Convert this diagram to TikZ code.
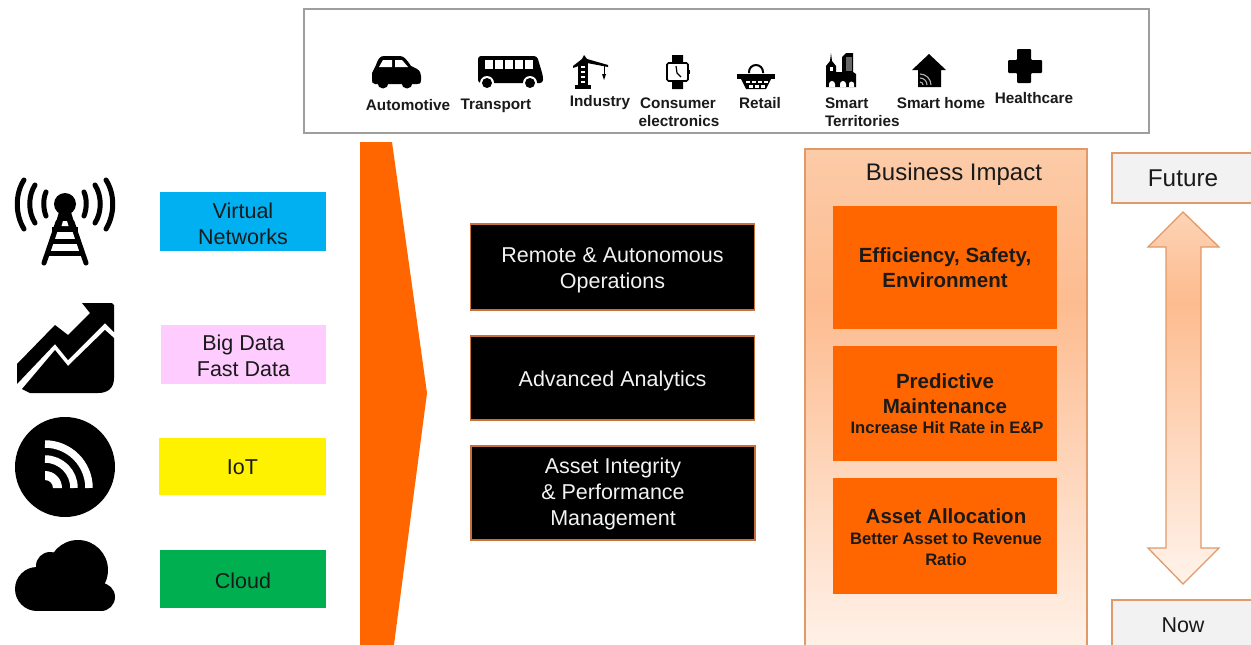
\documentclass[tikz,border=0pt]{standalone}
\usepackage{fontspec}
\setmainfont{Liberation Sans}
\usetikzlibrary{calc}
\definecolor{orng}{HTML}{FF6600}
\definecolor{edgeo}{HTML}{E09A6A}
\definecolor{blackedge}{HTML}{C8703A}
\definecolor{txt}{HTML}{1A1A1A}
\definecolor{vb}{HTML}{00B0F0}
\definecolor{pk}{HTML}{FFCCFF}
\definecolor{yl}{HTML}{FFF200}
\definecolor{gr}{HTML}{00B050}
\definecolor{gradtop}{HTML}{FCCBA8}
\definecolor{gradmid}{HTML}{FDBC90}
\definecolor{gradlow}{HTML}{FFF3EB}
\definecolor{gradatop}{HTML}{FDD3B5}
\pgfdeclareverticalshading{bizshade}{100bp}{color(0bp)=(gradlow); color(25bp)=(gradlow); color(60bp)=(gradmid); color(75bp)=(gradtop); color(100bp)=(gradtop)}
\pgfdeclareverticalshading{arrshade}{100bp}{color(0bp)=(gradlow); color(25bp)=(gradlow); color(63bp)=(gradmid); color(75bp)=(gradatop); color(100bp)=(gradatop)}
\tikzset{
  every node/.style={inner sep=0pt,outer sep=0pt,text=txt},
  techtext/.style={font=\fontsize{21.5}{26}\selectfont,align=center},
  blacktext/.style={font=\fontsize{21.5}{26}\selectfont,align=center,text=white!95!black},
  blackbox/.style={fill=black,draw=blackedge,line width=1.2pt,minimum width=284pt},
  impact/.style={fill=orng,minimum width=224pt,align=center},
  sector/.style={font=\fontsize{15.3}{18}\selectfont\bfseries},
  timebox/.style={fill=black!5,draw=edgeo,line width=1.3pt,anchor=north west,minimum width=150pt},
  biglabel/.style={font=\fontsize{20.5}{25}\selectfont\bfseries},
  sublabel/.style={font=\fontsize{16.6}{21}\selectfont\bfseries},
}
\begin{document}
\begin{tikzpicture}[x=1pt,y=-1pt]
\useasboundingbox (0,0) rectangle (1251,645);
\clip (0,0) rectangle (1251,645);
% top panel
\node[draw=black!38,line width=1.2pt,fill=white,minimum width=845pt,minimum height=124pt] (panel) at (726.5,71) {};
% car
\fill (372,73) -- (376,65) .. controls (378,59) and (380,56) .. (384,56) -- (400,56) .. controls (404,56) and (407,60) .. (411,66) -- (417,69) .. controls (420,71) and (421,73) .. (421,76) -- (421,80) .. controls (421,84) and (419,84) .. (417,84) -- (375,84) .. controls (372,84) and (372,82) .. (372,79) -- cycle;
\fill[white] (383,60) -- (392,60) -- (392,67) -- (379,67) -- cycle;
\fill[white] (395,60) -- (402,60) -- (408,67) -- (395,67) -- cycle;
\fill (383,83) circle[radius=5.5] (407,83) circle[radius=5.5];
% bus
\fill[rounded corners=3pt] (478,56) -- (537,56) -- (543,76) -- (543,83) -- (478,83) -- cycle;
\foreach \xx in {485,495,505,515,525}{\fill[white] (\xx,60) rectangle (\xx+7.5,69);}
\fill[white] (487,83) circle[radius=7] (530,83) circle[radius=7];
\fill (487,83) circle[radius=5] (530,83) circle[radius=5];
% crane
\fill (578,62) rectangle (588,85);
\foreach \yy in {66,71,76,81}{\fill[white] (581,\yy) rectangle (585,\yy+2);}
\fill (573,66) -- (582,59) -- (584,55) -- (587,59) -- (608,65) -- (608,67) -- (587,63) -- (573,68) -- cycle;
\fill (575,85) rectangle (591,89);
\draw[line width=0.7pt] (604,66) -- (604,74);
\fill (602,74) -- (606,74) -- (604,80) -- cycle;
% watch
\fill (672,55) rectangle (683,63) (672,81) rectangle (683,89);
\draw[line width=1.6pt,fill=white,rounded corners=1.5pt] (667,63) rectangle (688,81);
\draw[line width=1.2pt] (676,66) -- (677,73) -- (681,77);
\fill (688,70) rectangle (690,74);
% basket
\draw[line width=2pt] (749,73) -- (749,72) arc[start angle=-180,end angle=0,radius=7] -- (763,73);
\fill (737,74) rectangle (775,79);
\fill (741,79) -- (771,79) -- (766,89) -- (746,89) -- cycle;
\foreach \xx/\yy in {746/80.5,752/80.5,758/80.5,764/80.5,749/85,755/85,761/85}{\fill[white] (\xx,\yy) rectangle (\xx+3.5,\yy+2.5);}
% smart territories
\fill (826,87) -- (826,66) -- (830,61) -- (831,53) -- (832,61) -- (836,66) -- (836,72) -- (842,72) -- (842,57) -- (846,53) -- (853,53) -- (853,72) -- (856,74) -- (856,87) -- cycle;
\fill[black!60] (846,57) rectangle (852,71);
\fill[white] (829,87) -- (829,84) arc[start angle=-180,end angle=0,radius=3] -- (835,87) -- cycle;
\fill[white] (840,87) -- (840,84) arc[start angle=-180,end angle=0,radius=3] -- (846,87) -- cycle;
\fill[white] (849,87) -- (849,84) arc[start angle=-180,end angle=0,radius=2.5] -- (854,87) -- cycle;
\fill[white] (830,67) rectangle (833,71);
% smart home
\fill (912,70) -- (929,54) -- (946,70) -- (941,70) -- (941,87) -- (918,87) -- (918,70) -- cycle;
\draw[black!30,line width=1.1pt] (920,74) arc[start angle=-90,end angle=0,radius=11];
\draw[black!30,line width=1.1pt] (920,78) arc[start angle=-90,end angle=0,radius=7];
\draw[black!30,line width=1.1pt] (920,82) arc[start angle=-90,end angle=0,radius=3];
% cross
\fill[rounded corners=1pt] (1017,49) -- (1031,49) -- (1031,60) -- (1042,60) -- (1042,73) -- (1031,73) -- (1031,83) -- (1017,83) -- (1017,73) -- (1008,73) -- (1008,60) -- (1017,60) -- cycle;
% sector labels
\node[sector] (auto) at (408,105) {Automotive};
\node[sector] (trans) at (496,106) {Transport};
\node[sector] (indu) at (600,103) {Industry};
\node[sector] (cons1) at (678,103) {Consumer};
\node[sector] (cons2) at (679,121) {electronics};
\node[sector] (reta) at (760,103) {Retail};
\node[sector,anchor=west] (terr1) at (825,103) {Smart};
\node[sector,anchor=west] (terr2) at (825,121) {Territories};
\node[sector] (home) at (941,103) {Smart home};
\node[sector] (heal) at (1034,98) {Healthcare};
% tower icon
\fill (65,204) circle[radius=11];
\fill (59,212) -- (71,212) -- (76,229) -- (54,229) -- cycle;
\fill[white] (63,221) -- (67,221) -- (68.5,226) -- (61.5,226) -- cycle;
\draw[line width=5pt,line cap=round] (58,222) -- (44,263) (72,222) -- (86,263);
\draw[line width=5pt] (52,229) -- (78,229) (50,241) -- (80,241) (46,253) -- (84,253);
\foreach \sx in {-1,1}{
 \draw[line width=5pt,line cap=round] ({65+\sx*19},192) .. controls ({65+\sx*22},199) and ({65+\sx*22},208) .. ({65+\sx*19},216);
 \draw[line width=5pt,line cap=round] ({65+\sx*30},185) .. controls ({65+\sx*37},196) and ({65+\sx*37},212) .. ({65+\sx*30},223);
 \draw[line width=5pt,line cap=round] ({65+\sx*41},180) .. controls ({65+\sx*50},194) and ({65+\sx*50},214) .. ({65+\sx*41},229);
}
% trend icon
\fill (17,364) -- (55,325) -- (68,335) -- (90,313) -- (82,303) -- (112,303) -- (114,305) -- (114,332) -- (105,323) -- (68,360) -- (55,344) -- (17,384) -- cycle;
\fill (22,389) -- (55,350) -- (68,366) -- (105,330) -- (114,338) -- (114,378) .. controls (114,388) and (108,393) .. (98,393) -- (30,393) -- cycle;
% iot icon
\fill (65,467) circle[radius=50];
\foreach \rr in {44,29}{\draw[white,line width=7.5pt] (45,488-\rr) arc[start angle=-90,end angle=0,radius=\rr];}
\fill[white] (45,471) arc[start angle=-90,end angle=0,radius=17] -- (53,488) arc[start angle=0,end angle=-90,radius=8] -- cycle;
% cloud icon
\fill (37,589) circle[radius=22] (101,597) circle[radius=14] (78,570) circle[radius=30] (50,566) circle[radius=14];
\fill (37,575) rectangle (101,611);
% tech boxes
\node[fill=vb,minimum width=166pt,minimum height=59pt] (virt) at (243,221.5) {};
\node[fill=pk,minimum width=165pt,minimum height=59pt] (big) at (243.5,354.5) {};
\node[fill=yl,minimum width=167pt,minimum height=57pt] (iot) at (242.5,466.5) {};
\node[fill=gr,minimum width=166pt,minimum height=58pt] (cloud) at (243,579) {};
\node[techtext] (virtt) at (243,223.5) {Virtual\\Networks};
\node[techtext] (bigt) at (243.5,355.5) {Big Data\\Fast Data};
\node[techtext] (iott) at (242.5,467.5) {IoT};
\node[techtext] (cloudt) at (243,581) {Cloud};
% orange chevron
\fill[orng] (360,142) -- (392,142) -- (427,393) -- (392,660) -- (360,660) -- cycle;
% black boxes
\node[blackbox,minimum height=86pt] (remote) at (612.5,267) {};
\node[blackbox,minimum height=84pt] (analytics) at (612.5,378) {};
\node[blackbox,minimum height=94pt] (asset) at (613,493) {};
\node[blacktext] (remotet) at (612.5,270) {Remote \& Autonomous\\Operations};
\node[blacktext] (analyticst) at (612.5,381) {Advanced Analytics};
\node[blacktext] (assett) at (613,494) {Asset Integrity\\\& Performance\\Management};
% business impact
\path[shading=bizshade,draw=edgeo,line width=1.5pt] (805,149) rectangle (1087,660);
\node[font=\fontsize{24}{28}\selectfont] (biz) at (954,174) {Business Impact};
\node[impact,minimum height=123pt] (eff) at (945,267.5) {};
\node[impact,minimum height=115pt] (pred) at (945,403.5) {};
\node[impact,minimum height=116pt] (alloc) at (945,536) {};
\node[biglabel,align=center] (efft) at (945,267.5) {Efficiency, Safety,\\Environment};
\node[biglabel,align=center] (predt) at (945,393.5) {Predictive\\Maintenance};
\node[sublabel] (preds) at (947,428) {Increase Hit Rate in E\&P};
\node[biglabel] (allt) at (946,516) {Asset Allocation};
\node[sublabel,align=center] (alls) at (946,549.5) {Better Asset to Revenue\\Ratio};
% future / now
\node[timebox,minimum height=50pt] (future) at (1112,153) {};
\node[timebox,minimum height=60pt] (now) at (1112,600) {};
\node[font=\fontsize{24.3}{28}\selectfont] (futuret) at (1183,178) {Future};
\node[font=\fontsize{21.5}{26}\selectfont] (nowt) at (1183,625) {Now};
\path[shading=arrshade,draw=edgeo,line width=1.3pt,line join=miter] (1183,212) -- (1219,247) -- (1201,247) -- (1201,548) -- (1219,548) -- (1183,584) -- (1148,548) -- (1166,548) -- (1166,247) -- (1148,247) -- cycle;
\end{tikzpicture}
\end{document}
